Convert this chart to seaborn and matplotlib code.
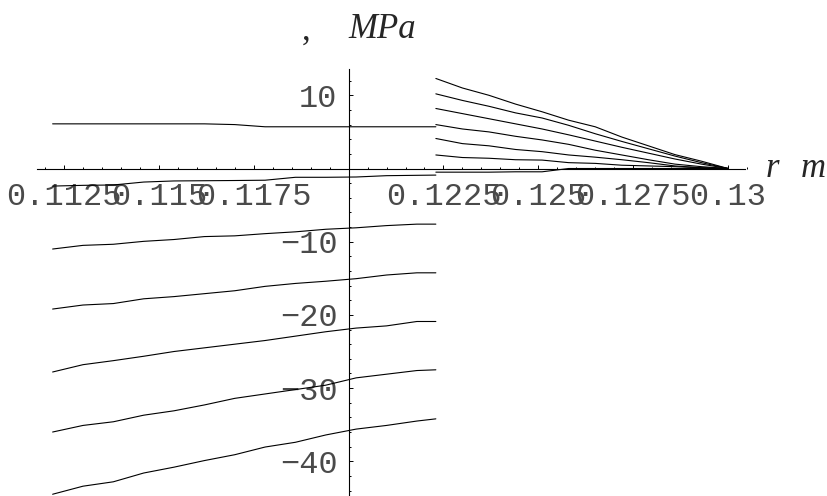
import numpy as np
import pandas as pd
import matplotlib
matplotlib.use("Agg")
import matplotlib.pyplot as plt
import seaborn as sns

# radius grids (m)
r_left = [0.1122, 0.1130, 0.1138, 0.1146, 0.1154, 0.1162, 0.1170,
          0.1178, 0.1186, 0.1194, 0.1202, 0.1210, 0.1218, 0.1223]
r_right = [0.1223, 0.1230, 0.1237, 0.1244, 0.1251, 0.1258,
           0.1265, 0.1272, 0.1279, 0.1286, 0.1293, 0.1300]

# stress curves on the inner part (MPa)
left_curves = {
    "a": [6.1, 6.1, 6.1, 6.1, 6.1, 6.1, 6.0, 5.7, 5.7, 5.7, 5.7, 5.7, 5.7, 5.7],
    "b": [-2.4, -2.3, -2.25, -1.85, -1.7, -1.67, -1.64, -1.6, -1.2, -1.2, -1.16, -0.98, -0.93, -0.9],
    "c": [-11.0, -10.5, -10.35, -9.95, -9.7, -9.3, -9.2, -8.9, -8.65, -8.3, -8.1, -7.8, -7.6, -7.6],
    "d": [-19.2, -18.65, -18.45, -17.8, -17.5, -17.1, -16.7, -16.1, -15.7, -15.4, -15.05, -14.55, -14.25, -14.25],
    "e": [-27.8, -26.8, -26.25, -25.65, -25.0, -24.5, -24.0, -23.5, -22.9, -22.3, -21.8, -21.5, -20.9, -20.9],
    "f": [-36.0, -35.1, -34.6, -33.7, -33.1, -32.3, -31.4, -30.8, -30.2, -29.6, -28.6, -28.1, -27.6, -27.5],
    "g": [-44.5, -43.4, -42.8, -41.6, -40.8, -39.9, -39.1, -38.05, -37.4, -36.4, -35.6, -35.1, -34.5, -34.2],
}

# stress curves on the outer part (MPa)
right_curves = {
    "h": [12.3, 11.0, 10.0, 8.8, 7.75, 6.6, 5.7, 4.3, 3.1, 1.9, 1.0, 0.0],
    "i": [10.2, 9.3, 8.5, 7.6, 6.9, 5.9, 4.75, 3.7, 2.7, 1.7, 0.8, 0.0],
    "j": [8.2, 7.5, 6.8, 6.1, 5.4, 4.6, 3.75, 2.9, 2.1, 1.3, 0.6, 0.0],
    "k": [6.0, 5.4, 5.0, 4.4, 3.9, 3.3, 2.5, 1.85, 1.2, 0.6, 0.25, 0.0],
    "l": [4.1, 3.4, 3.1, 2.6, 2.3, 1.85, 1.55, 1.2, 0.8, 0.35, 0.1, 0.0],
    "m": [1.85, 1.5, 1.4, 1.2, 1.15, 0.8, 0.7, 0.45, 0.35, 0.25, 0.1, 0.0],
    "n": [-0.5, -0.5, -0.5, -0.45, -0.45, 0.0, 0.0, 0.0, 0.0, 0.0, 0.0, 0.0],
}

x_major = [0.1125, 0.115, 0.1175, 0.1225, 0.125, 0.1275, 0.13]
x_labels = ["0.1125", "0.115", "0.1175", "0.1225", "0.125", "0.1275", "0.13"]
y_major = [-40, -30, -20, -10, 10]
y_labels = ["\u221240", "\u221230", "\u221220", "\u221210", "10"]

rows = []
for name, vals in left_curves.items():
    rows += [(name, r, s) for r, s in zip(r_left, vals)]
for name, vals in right_curves.items():
    rows += [(name, r, s) for r, s in zip(r_right, vals)]
df = pd.DataFrame(rows, columns=["curve", "r", "sigma"])

sns.set_style("white")
plt.rcParams["font.family"] = ["Liberation Mono", "DejaVu Sans Mono"]

fig = plt.figure(figsize=(8.28, 4.96), dpi=100)
ax = fig.add_axes([0, 0, 1, 1])
sns.lineplot(data=df, x="r", y="sigma", units="curve", estimator=None,
             sort=False, color="black", lw=0.8, ax=ax)

ax.set_xlim(0.110813, 0.132635)
ax.set_ylim(-44.74, 23.02)
ax.patch.set_visible(False)
for s in ["top", "right"]:
    ax.spines[s].set_visible(False)
ax.spines["left"].set_position(("data", 0.12))
ax.spines["bottom"].set_position(("data", 0))
ax.spines["left"].set_bounds(-44.74, 13.6)
ax.spines["bottom"].set_bounds(0.11179, 0.13045)
for s in ["left", "bottom"]:
    ax.spines[s].set_linewidth(0.8)
    ax.spines[s].set_color("black")

ax.set_xticks(x_major)
ax.set_xticklabels(x_labels)
ax.set_xticks([v for v in np.arange(0.112, 0.13051, 0.0005)
               if min(abs(v - t) for t in x_major + [0.12]) > 1e-6], minor=True)
ax.set_yticks(y_major)
ax.set_yticklabels(y_labels)
ax.set_yticks([v for v in range(-44, 14, 2) if v % 10 != 0], minor=True)

ax.tick_params(which="both", direction="in", width=0.7, color="black",
               labelsize=23, labelcolor="#4a4a4a")
ax.tick_params(which="major", length=3.0)
ax.tick_params(which="minor", length=1.6)
ax.tick_params(axis="x", which="both", bottom=True, pad=9.5)
ax.tick_params(axis="y", which="both", left=True, pad=8)
ax.set_xlabel("")
ax.set_ylabel("")

serif = ["Liberation Serif", "DejaVu Serif"]
ax.text(306 / 828, 1 - 40 / 496, ",", transform=fig.transFigure, fontsize=25,
        family=serif, ha="center", va="baseline")
ax.text(348 / 828, 1 - 38 / 496, "MPa", transform=fig.transFigure, fontsize=25,
        family=serif, style="italic", ha="left", va="baseline")
ax.text(766 / 828, 1 - 177 / 496, "r", transform=fig.transFigure, fontsize=25,
        family=serif, style="italic", ha="left", va="baseline")
ax.text(801 / 828, 1 - 177 / 496, "m", transform=fig.transFigure, fontsize=25,
        family=serif, style="italic", ha="left", va="baseline")

fig.savefig("out.png", dpi=100)
plt.close(fig)
